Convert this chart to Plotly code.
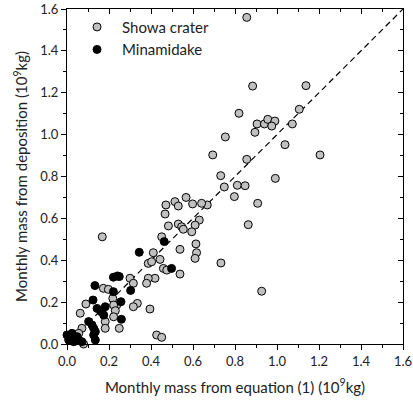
import plotly.graph_objects as go

# Showa crater (grey) points: equation mass, deposition mass (10^9 kg)
showa_x = [0.856, 0.884, 1.138, 0.819, 1.106, 0.905, 0.940, 0.956, 0.990, 0.975,
           0.895, 1.073, 0.754, 1.038, 1.205, 0.694, 0.856, 0.732, 0.749, 0.811,
           0.848, 0.797, 0.992, 0.908, 0.668, 0.567, 0.598, 0.641, 0.514, 0.471,
           0.530, 0.467, 0.630, 0.610, 0.594, 0.530, 0.546, 0.554, 0.483, 0.863,
           0.451, 0.614, 0.617, 0.610, 0.538, 0.733, 0.927, 0.168, 0.411, 0.443,
           0.387, 0.403, 0.459, 0.475, 0.538, 0.419, 0.387, 0.379, 0.300, 0.316,
           0.173, 0.197, 0.218, 0.090, 0.237, 0.222, 0.335, 0.316, 0.395, 0.230,
           0.222, 0.182, 0.182, 0.249, 0.063, 0.071, 0.056, 0.427, 0.451, 0.079,
           -0.005]
showa_y = [1.560, 1.232, 1.234, 1.102, 1.121, 1.051, 1.051, 1.073, 1.065, 1.041,
           1.011, 1.051, 0.989, 0.952, 0.903, 0.903, 0.882, 0.804, 0.750, 0.758,
           0.756, 0.704, 0.791, 0.672, 0.664, 0.700, 0.669, 0.672, 0.680, 0.664,
           0.659, 0.621, 0.592, 0.568, 0.536, 0.573, 0.560, 0.548, 0.564, 0.570,
           0.512, 0.478, 0.436, 0.409, 0.452, 0.387, 0.252, 0.512, 0.436, 0.404,
           0.385, 0.393, 0.361, 0.353, 0.334, 0.314, 0.314, 0.290, 0.314, 0.290,
           0.266, 0.261, 0.218, 0.191, 0.186, 0.186, 0.194, 0.178, 0.167, 0.159,
           0.130, 0.107, 0.075, 0.075, 0.147, 0.075, 0.051, 0.043, 0.032, 0.000,
           0.000]

# Minamidake (black) points
mina_x = [0.463, 0.344, 0.498, 0.240, 0.221, 0.249, 0.133, 0.303, 0.221, 0.257,
          0.124, 0.143, 0.163, 0.175, 0.182, 0.259, 0.103, 0.119, 0.127, 0.135,
          0.127, 0.135, 0.000, 0.024, 0.048, 0.008, 0.032, 0.056, -0.005, 0.071,
          0.015, 0.040]
mina_y = [0.489, 0.438, 0.361, 0.325, 0.319, 0.322, 0.279, 0.256, 0.250, 0.202,
          0.210, 0.170, 0.154, 0.138, 0.178, 0.118, 0.107, 0.091, 0.075, 0.059,
          0.043, 0.019, 0.043, 0.051, 0.035, 0.019, 0.011, 0.019, 0.003, 0.011,
          0.030, 0.025]

one_to_one = [0.0, 1.6]
ax_range = [0, 1.6]

FONT = "Lato"

fig = go.Figure()

fig.add_trace(go.Scatter(
    x=one_to_one, y=one_to_one, mode="lines",
    line=dict(color="black", width=1.2, dash="6px,4px"),
    showlegend=False, hoverinfo="skip",
))
fig.add_trace(go.Scatter(
    x=showa_x, y=showa_y, mode="markers", name="Showa crater",
    marker=dict(size=8, color="#c0c0c0", line=dict(color="black", width=1)),
    cliponaxis=False,
))
fig.add_trace(go.Scatter(
    x=mina_x, y=mina_y, mode="markers", name="Minamidake",
    marker=dict(size=8, color="black", line=dict(color="black", width=1)),
    cliponaxis=False,
))
# dummy trace so the mirrored top/right axes get drawn
fig.add_trace(go.Scatter(
    x=[None], y=[None], xaxis="x2", yaxis="y2", showlegend=False,
))

tickfont = dict(family=FONT, size=13, color="#222")
minor_out = dict(ticks="outside", ticklen=3, dtick=0.1, tickcolor="black", showgrid=False)
minor_in = dict(ticks="inside", ticklen=3, dtick=0.1, tickcolor="black", showgrid=False)

fig.update_layout(
    width=413, height=402,
    margin=dict(l=67, r=10, t=9, b=58),
    plot_bgcolor="white", paper_bgcolor="white",
    font=dict(family=FONT, size=14, color="#222"),
    xaxis=dict(
        range=ax_range, dtick=0.2, tickformat=".1f", showgrid=False, zeroline=False,
        showline=True, linecolor="black", linewidth=1, automargin=False,
        ticks="outside", ticklen=5, tickcolor="black", tickfont=tickfont,
        minor=minor_out,
        title=dict(text="Monthly mass from equation (1) (10<sup>9</sup>kg)",
                   font=dict(family=FONT, size=15), standoff=14),
    ),
    yaxis=dict(
        range=ax_range, dtick=0.2, tickformat=".1f", showgrid=False, zeroline=False,
        showline=True, linecolor="black", linewidth=1, automargin=False,
        ticks="outside", ticklen=5, tickcolor="black", tickfont=tickfont,
        minor=minor_out,
        title=dict(text="Monthly mass from deposition (10<sup>9</sup>kg)",
                   font=dict(family=FONT, size=15), standoff=8),
    ),
    xaxis2=dict(
        overlaying="x", side="top", range=ax_range, dtick=0.2, showgrid=False,
        zeroline=False, showline=True, linecolor="black", linewidth=1,
        ticks="inside", ticklen=5, tickcolor="black", showticklabels=False,
        minor=minor_in, automargin=False,
    ),
    yaxis2=dict(
        overlaying="y", side="right", range=ax_range, dtick=0.2, showgrid=False,
        zeroline=False, showline=True, linecolor="black", linewidth=1,
        ticks="inside", ticklen=5, tickcolor="black", showticklabels=False,
        minor=minor_in, automargin=False,
    ),
    legend=dict(
        x=0.015, y=0.995, xanchor="left", yanchor="top",
        bgcolor="rgba(0,0,0,0)", font=dict(family=FONT, size=15),
        tracegroupgap=0, itemwidth=40,
    ),
)

# page body has an 8px default margin; drop it so the figure fills the window
fig.write_html(
    "out.html",
    config={"displayModeBar": False},
    post_script="document.body.style.margin='0';",
)
